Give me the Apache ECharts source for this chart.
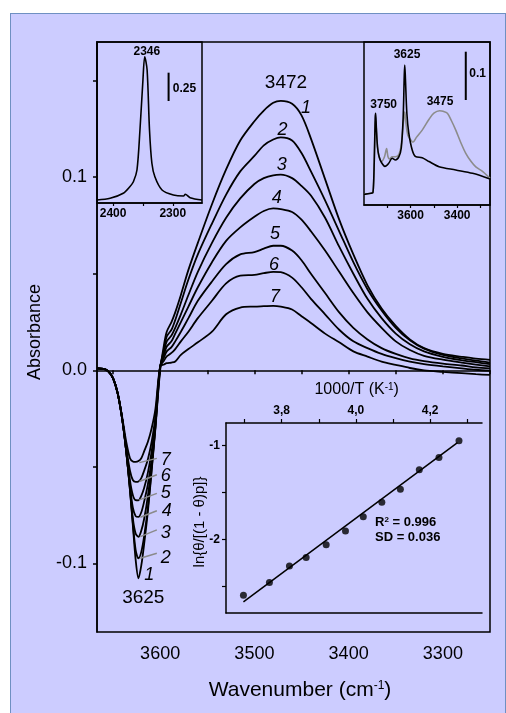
<!DOCTYPE html>
<html><head><meta charset="utf-8">
<script src="https://cdn.jsdelivr.net/npm/echarts@6/dist/echarts.min.js"></script>
<style>
html,body{margin:0;padding:0;background:#fff;}
#bg{position:absolute;left:10px;top:13px;width:494px;height:710px;background:#ccccff;border-left:1px solid #6f90c2;border-top:1px solid #6f90c2;border-right:1px solid #6f90c2;}
#c{position:absolute;left:0;top:0;width:506px;height:713px;}
</style>
</head><body><div id="bg"></div><div id="c"></div>
<script>
// ---------------- DATA ----------------
// Main spectra (difference spectra 1..7)
const wavenumber = [3667,3660,3655,3650,3645,3640,3636,3632,3629,3626,3623,3620,3617,3613,3609,3605,
  3600,3596,3593,3588,3584,3578,3570,3560,3545,3530,3515,3500,3490,3480,3472,3460,3450,3440,3425,3410,3395,3380,3365,3350,3335,3320,3300,3280,3265,3250];
const absorbance1 = [0.001,0.0008,-0.0005,-0.004,-0.012,-0.026,-0.042,-0.062,-0.08,-0.098,-0.1077,-0.101,-0.09,-0.073,-0.052,-0.03,
  0.0,0.013,0.020,0.025,0.030,0.039,0.052,0.066,0.086,0.104,0.119,0.129,0.1345,0.1385,0.1395,0.138,0.132,0.12,0.099,0.078,0.06,0.044,0.032,0.023,0.016,0.0115,0.0085,0.007,0.006,0.0054];
const absorbance2 = [0.001,0.0008,-0.0005,-0.004,-0.012,-0.026,-0.042,-0.062,-0.079,-0.093,-0.0974,-0.094,-0.086,-0.071,-0.051,-0.029,
  0.001,0.011,0.0175,0.021,0.026,0.035,0.047,0.060,0.076,0.091,0.103,0.111,0.1165,0.1195,0.1206,0.119,0.1125,0.103,0.088,0.072,0.056,0.042,0.031,0.022,0.0155,0.0112,0.008,0.0062,0.005,0.004];
const absorbance3 = [0.001,0.0008,-0.0005,-0.004,-0.012,-0.026,-0.042,-0.061,-0.0765,-0.0845,-0.0862,-0.083,-0.077,-0.065,-0.049,-0.029,
  0.0015,0.0095,0.015,0.018,0.022,0.029,0.039,0.051,0.066,0.079,0.089,0.0965,0.0995,0.101,0.1013,0.0995,0.0955,0.0905,0.079,0.064,0.05,0.037,0.027,0.019,0.0135,0.0098,0.007,0.0052,0.0042,0.0032];
const absorbance4 = [0.001,0.0008,-0.0005,-0.004,-0.012,-0.026,-0.042,-0.06,-0.071,-0.0755,-0.0759,-0.0735,-0.068,-0.059,-0.046,-0.027,
  0.002,0.008,0.0123,0.015,0.019,0.025,0.033,0.043,0.056,0.067,0.074,0.0795,0.0825,0.0838,0.0835,0.082,0.078,0.072,0.062,0.051,0.04,0.03,0.022,0.015,0.0105,0.0075,0.0055,0.004,0.003,0.002];
const absorbance5 = [0.001,0.0008,-0.0005,-0.004,-0.012,-0.026,-0.041,-0.057,-0.0645,-0.0672,-0.0673,-0.065,-0.061,-0.053,-0.042,-0.026,
  0.002,0.0065,0.0098,0.012,0.015,0.02,0.027,0.036,0.046,0.055,0.06,0.0612,0.063,0.0645,0.0645,0.062,0.057,0.05,0.04,0.03,0.022,0.016,0.0115,0.0085,0.0062,0.0048,0.0035,0.0025,0.0015,0.001];
const absorbance6 = [0.001,0.0008,-0.0005,-0.004,-0.012,-0.026,-0.04,-0.052,-0.0568,-0.0578,-0.0576,-0.0558,-0.052,-0.046,-0.037,-0.024,
  0.002,0.005,0.0072,0.009,0.011,0.015,0.02,0.027,0.036,0.045,0.049,0.0494,0.0503,0.051,0.0508,0.048,0.043,0.037,0.029,0.021,0.015,0.0115,0.0085,0.0063,0.0045,0.0032,0.002,0.001,0.0003,-0.0002];
const absorbance7 = [0.001,0.0008,-0.0005,-0.004,-0.012,-0.025,-0.037,-0.0455,-0.0472,-0.0474,-0.047,-0.0455,-0.042,-0.037,-0.03,-0.02,
  0.002,0.003,0.0037,0.004,0.0046,0.008,0.011,0.0145,0.02,0.029,0.0325,0.033,0.0332,0.0334,0.033,0.0315,0.028,0.0245,0.019,0.0145,0.0098,0.0071,0.0045,0.0028,0.0012,0.0,-0.0008,-0.0015,-0.002,-0.0024];
const spectra = [absorbance1,absorbance2,absorbance3,absorbance4,absorbance5,absorbance6,absorbance7];

// Leader lines from minima (curves 2..7) to their numbers
const leaderStartWn  = [3621,3621,3621,3622,3622,3622];
const leaderStartAbs = [-0.0973,-0.0861,-0.0761,-0.0671,-0.0576,-0.0478];
const leaderEndWn    = [3603.5,3603.5,3603.5,3603.5,3603.5,3603.5];
const leaderEndAbs   = [-0.0947,-0.0826,-0.0727,-0.0637,-0.0541,-0.0456];

// Main axis ticks / labels
const mainXLabels = [3600,3500,3400,3300];
const mainXTicks  = [3650,3600,3550,3500,3450,3400,3350,3300,3250];
const mainYLabels = [-0.1,0,0.1];
const mainYTicks  = [-0.1,-0.05,0,0.05,0.1,0.15];

// Inset: CO2 band
const co2Wavenumber = [2427,2405,2383,2372,2366,2360,2355,2350,2347,2343,2339,2335,2330,2318,2299,2282,2279,2271,2251];
const co2Absorbance = [0.0265,0.0415,0.0857,0.144,0.188,0.2915,0.645,1.087,1.292,1.175,0.645,0.351,0.232,0.115,0.0707,0.062,0.077,0.047,0.0265];
const co2XLabels = [2400,2300];
const co2XTicks = [2400,2350,2300];
const co2ScaleBarWn = [2307,2307];
const co2ScaleBarAbs = [0.901,1.151];

// Inset: OH region (black = before, gray = after CO adsorption)
const ohWnBlack  = [3800,3770,3762,3756,3752,3750,3747,3742,3735,3725,3710,3694,3679,3665,3650,3640,3632,3627,3625,3622,3616,3608,3593,3578,3550,3521,3478,3406,3334,3259];
const ohAbsBlack = [0.022,0.0245,0.025,0.09,0.18,0.19,0.16,0.12,0.1,0.088,0.08,0.0863,0.0967,0.0932,0.1,0.118,0.18,0.27,0.29,0.26,0.19,0.15,0.114,0.1,0.098,0.09,0.0793,0.0725,0.0656,0.054];
const ohWnGray   = [3800,3770,3762,3756,3752,3750,3746,3740,3732,3725,3712,3703,3697,3690,3680,3665,3650,3640,3632,3625,3620,3612,3600,3590,3575,3550,3520,3500,3475,3460,3442,3425,3406,3385,3363,3340,3320,3290,3259];
const ohAbsGray  = [0.022,0.0245,0.025,0.09,0.165,0.175,0.15,0.11,0.095,0.09,0.1,0.117,0.1,0.095,0.1,0.1,0.105,0.125,0.165,0.193,0.17,0.145,0.135,0.13,0.14,0.155,0.178,0.19,0.195,0.194,0.19,0.175,0.155,0.13,0.107,0.09,0.079,0.069,0.055];
const ohXLabels = [3600,3400];
const ohXTicks = [3700,3600,3500,3400,3300];
const ohScaleBarWn = [3363,3363];
const ohScaleBarAbs = [0.2174,0.3174];

// Inset: van't Hoff plot
const invT = [3.697,3.767,3.821,3.866,3.920,3.972,4.020,4.070,4.120,4.171,4.224,4.278];
const lnK  = [-2.597,-2.461,-2.286,-2.193,-2.058,-1.911,-1.758,-1.603,-1.464,-1.257,-1.125,-0.946];
const fitInvT = [3.697,4.274];
const fitLnK  = [-2.669,-0.966];
const vhXLabels = [3.8,4.0,4.2];
const vhXTicks = [3.7,3.8,3.9,4.0,4.1,4.2,4.3];
const vhYLabels = [-1,-2];
const vhYTicks = [-1,-1.5,-2,-2.5];

// ---------------- CHART ----------------
const F = '"Liberation Sans", Arial, Helvetica, sans-serif';
const BLACK = '#000';
const zip = (a,b) => a.map((v,i)=>[v,b[i]]);
const lineAx = {show:true, lineStyle:{color:BLACK,width:1.5}};
const plain = v => String(v);

const chart = echarts.init(document.getElementById('c'), null, {renderer:'canvas'});

const series = [];
spectra.forEach((arr,k)=>{
  series.push({type:'line', xAxisIndex:0, yAxisIndex:0, data: zip(wavenumber,arr), showSymbol:false, smooth:0.3,
    lineStyle:{color:BLACK,width:1.8}, z:3, silent:true});
});
leaderStartWn.forEach((w,i)=>{
  series.push({type:'line', xAxisIndex:0, yAxisIndex:0, data:[[w,leaderStartAbs[i]],[leaderEndWn[i],leaderEndAbs[i]]],
    showSymbol:false, lineStyle:{color:'#8a8a8a',width:1.5}, z:4, silent:true});
});
series.push({type:'line', xAxisIndex:1, yAxisIndex:1, data: zip(co2Wavenumber,co2Absorbance), showSymbol:false, smooth:0.3,
  lineStyle:{color:BLACK,width:1.6}, silent:true});
series.push({type:'line', xAxisIndex:1, yAxisIndex:1, data: zip(co2ScaleBarWn,co2ScaleBarAbs), showSymbol:false,
  lineStyle:{color:BLACK,width:2}, silent:true});
series.push({type:'line', xAxisIndex:2, yAxisIndex:2, data: zip(ohWnGray,ohAbsGray), showSymbol:false, smooth:0.3,
  lineStyle:{color:'#8c8c8c',width:1.6}, silent:true});
series.push({type:'line', xAxisIndex:2, yAxisIndex:2, data: zip(ohWnBlack,ohAbsBlack), showSymbol:false, smooth:0.3,
  lineStyle:{color:BLACK,width:1.6}, silent:true});
series.push({type:'line', xAxisIndex:2, yAxisIndex:2, data: zip(ohScaleBarWn,ohScaleBarAbs), showSymbol:false,
  lineStyle:{color:BLACK,width:2}, silent:true});
series.push({type:'line', xAxisIndex:3, yAxisIndex:3, data: zip(fitInvT,fitLnK), showSymbol:false,
  lineStyle:{color:BLACK,width:1.5}, silent:true});
series.push({type:'scatter', xAxisIndex:3, yAxisIndex:3, data: zip(invT,lnK), symbol:'circle', symbolSize:7,
  itemStyle:{color:BLACK}, silent:true});

const noAxis = {show:false};
const option = {
  backgroundColor:'transparent',
  animation:false,
  grid:[
    {left:97, top:42, width:393, height:590, show:true, borderColor:BLACK, borderWidth:1.5, backgroundColor:'transparent'},
    {left:97, top:42, width:105, height:161, show:true, borderColor:BLACK, borderWidth:1.5, backgroundColor:'transparent'},
    {left:364, top:42, width:126, height:163, show:true, borderColor:BLACK, borderWidth:1.5, backgroundColor:'transparent'},
    {left:226, top:423, width:256, height:190, show:false}
  ],
  xAxis:[
    {gridIndex:0, type:'value', inverse:true, min:3250, max:3667, axisLine:lineAx,
     axisTick:{show:true, length:4, customValues:mainXTicks, lineStyle:{color:BLACK,width:1.5}},
     axisLabel:{customValues:mainXLabels, formatter:plain, fontSize:18, color:BLACK, fontFamily:F, margin:13},
     splitLine:{show:false}},
    {gridIndex:1, type:'value', inverse:true, min:2251, max:2427, axisLine:lineAx,
     axisTick:{show:true, length:3, customValues:co2XTicks, lineStyle:{color:BLACK,width:1.2}},
     axisLabel:{customValues:co2XLabels, formatter:plain, fontSize:12, fontWeight:'bold', color:BLACK, fontFamily:F, margin:5},
     splitLine:{show:false}},
    {gridIndex:2, type:'value', inverse:true, min:3259, max:3800, axisLine:lineAx,
     axisTick:{show:true, length:3, customValues:ohXTicks, lineStyle:{color:BLACK,width:1.2}},
     axisLabel:{customValues:ohXLabels, formatter:plain, fontSize:12, fontWeight:'bold', color:BLACK, fontFamily:F, margin:5},
     splitLine:{show:false}},
    {gridIndex:3, type:'value', position:'top', min:3.65, max:4.34, axisLine:lineAx,
     axisTick:{show:true, length:4, customValues:vhXTicks, lineStyle:{color:BLACK,width:1.2}},
     axisLabel:{customValues:vhXLabels, formatter:v=>v.toFixed(1).replace('.',','), fontSize:12, fontWeight:'bold', color:BLACK, fontFamily:F, margin:6},
     splitLine:{show:false}},
    {gridIndex:3, type:'value', position:'bottom', min:3.65, max:4.34, axisLine:lineAx,
     axisTick:noAxis, axisLabel:noAxis, splitLine:{show:false}}
  ],
  yAxis:[
    {gridIndex:0, type:'value', min:-0.1355, max:0.17, axisLine:lineAx,
     axisTick:{show:true, length:4, customValues:mainYTicks, lineStyle:{color:BLACK,width:1.5}},
     axisLabel:{customValues:mainYLabels, formatter:v=>v.toFixed(1), fontSize:18, color:BLACK, fontFamily:F, margin:10},
     splitLine:{show:false}},
    {gridIndex:1, type:'value', min:0, max:1.422, axisLine:noAxis, axisTick:noAxis, axisLabel:noAxis, splitLine:{show:false}},
    {gridIndex:2, type:'value', min:0, max:0.3375, axisLine:noAxis, axisTick:noAxis, axisLabel:noAxis, splitLine:{show:false}},
    {gridIndex:3, type:'value', min:-2.787, max:-0.757, axisLine:lineAx,
     axisTick:{show:true, length:4, customValues:vhYTicks, lineStyle:{color:BLACK,width:1.2}},
     axisLabel:{customValues:vhYLabels, formatter:plain, fontSize:12, fontWeight:'bold', color:BLACK, fontFamily:F, margin:6},
     splitLine:{show:false}}
  ],
  series: series,
  graphic: []
};

// Text annotations (pixel placed)
const txt = (text,x,y,size,opt={}) => ({type:'text', x:x, y:y, rotation:opt.rot||0, z:50, silent:true,
  style:{text:text, fill:BLACK, font:(opt.italic?'italic ':'')+(opt.bold?'bold ':'')+size+'px '+F,
    align:opt.align||'center', verticalAlign:'middle', rich:opt.rich}});
const G = option.graphic;
G.push(txt('3472',286,83,19));
G.push(txt('3625',143.3,597.5,19));
[['1',306,108],['2',282.5,129.5],['3',281.7,165],['4',276.7,198],['5',275,234],['6',274,265],['7',275,296.5],
 ['7',165.8,460],['6',165.8,476],['5',165.8,492.5],['4',166.7,511],['3',165.8,532.5],['2',165.8,557.5],['1',149.2,575]]
 .forEach(a=>G.push(txt(a[0],a[1],a[2],18,{italic:true})));
G.push(txt('2346',146.8,51.7,12,{bold:true}));
G.push(txt('0.25',184.5,88.3,12,{bold:true}));
G.push(txt('3625',407,55,12,{bold:true}));
G.push(txt('3750',383.7,105,12,{bold:true}));
G.push(txt('3475',440,101.7,12,{bold:true}));
G.push(txt('0.1',477.7,73.3,12,{bold:true}));
G.push(txt('{a|R}{s|2}{a| = 0.996}',375,522.7,13,{bold:true,align:'left',
  rich:{a:{font:'bold 13px '+F,fill:BLACK}, s:{font:'bold 8px '+F,fill:BLACK,verticalAlign:'top'}}}));
G.push(txt('SD = 0.036',375,537.3,13,{bold:true,align:'left'}));
G.push(txt('{a|1000/T (K}{s|-1}{a|)}',356.7,390,16,{
  rich:{a:{font:'16px '+F,fill:BLACK}, s:{font:'10px '+F,fill:BLACK,verticalAlign:'top'}}}));
G.push(txt('ln{θ/[(1 - θ)p]}',200,522,15,{rot:Math.PI/2}));
G.push(txt('Absorbance',35,332,18,{rot:Math.PI/2}));
G.push(txt('{a|Wavenumber (cm}{s|-1}{a|)}',300,690,21,{
  rich:{a:{font:'21px '+F,fill:BLACK}, s:{font:'12px '+F,fill:BLACK,verticalAlign:'top'}}}));

chart.setOption(option);
</script>
</body></html>
